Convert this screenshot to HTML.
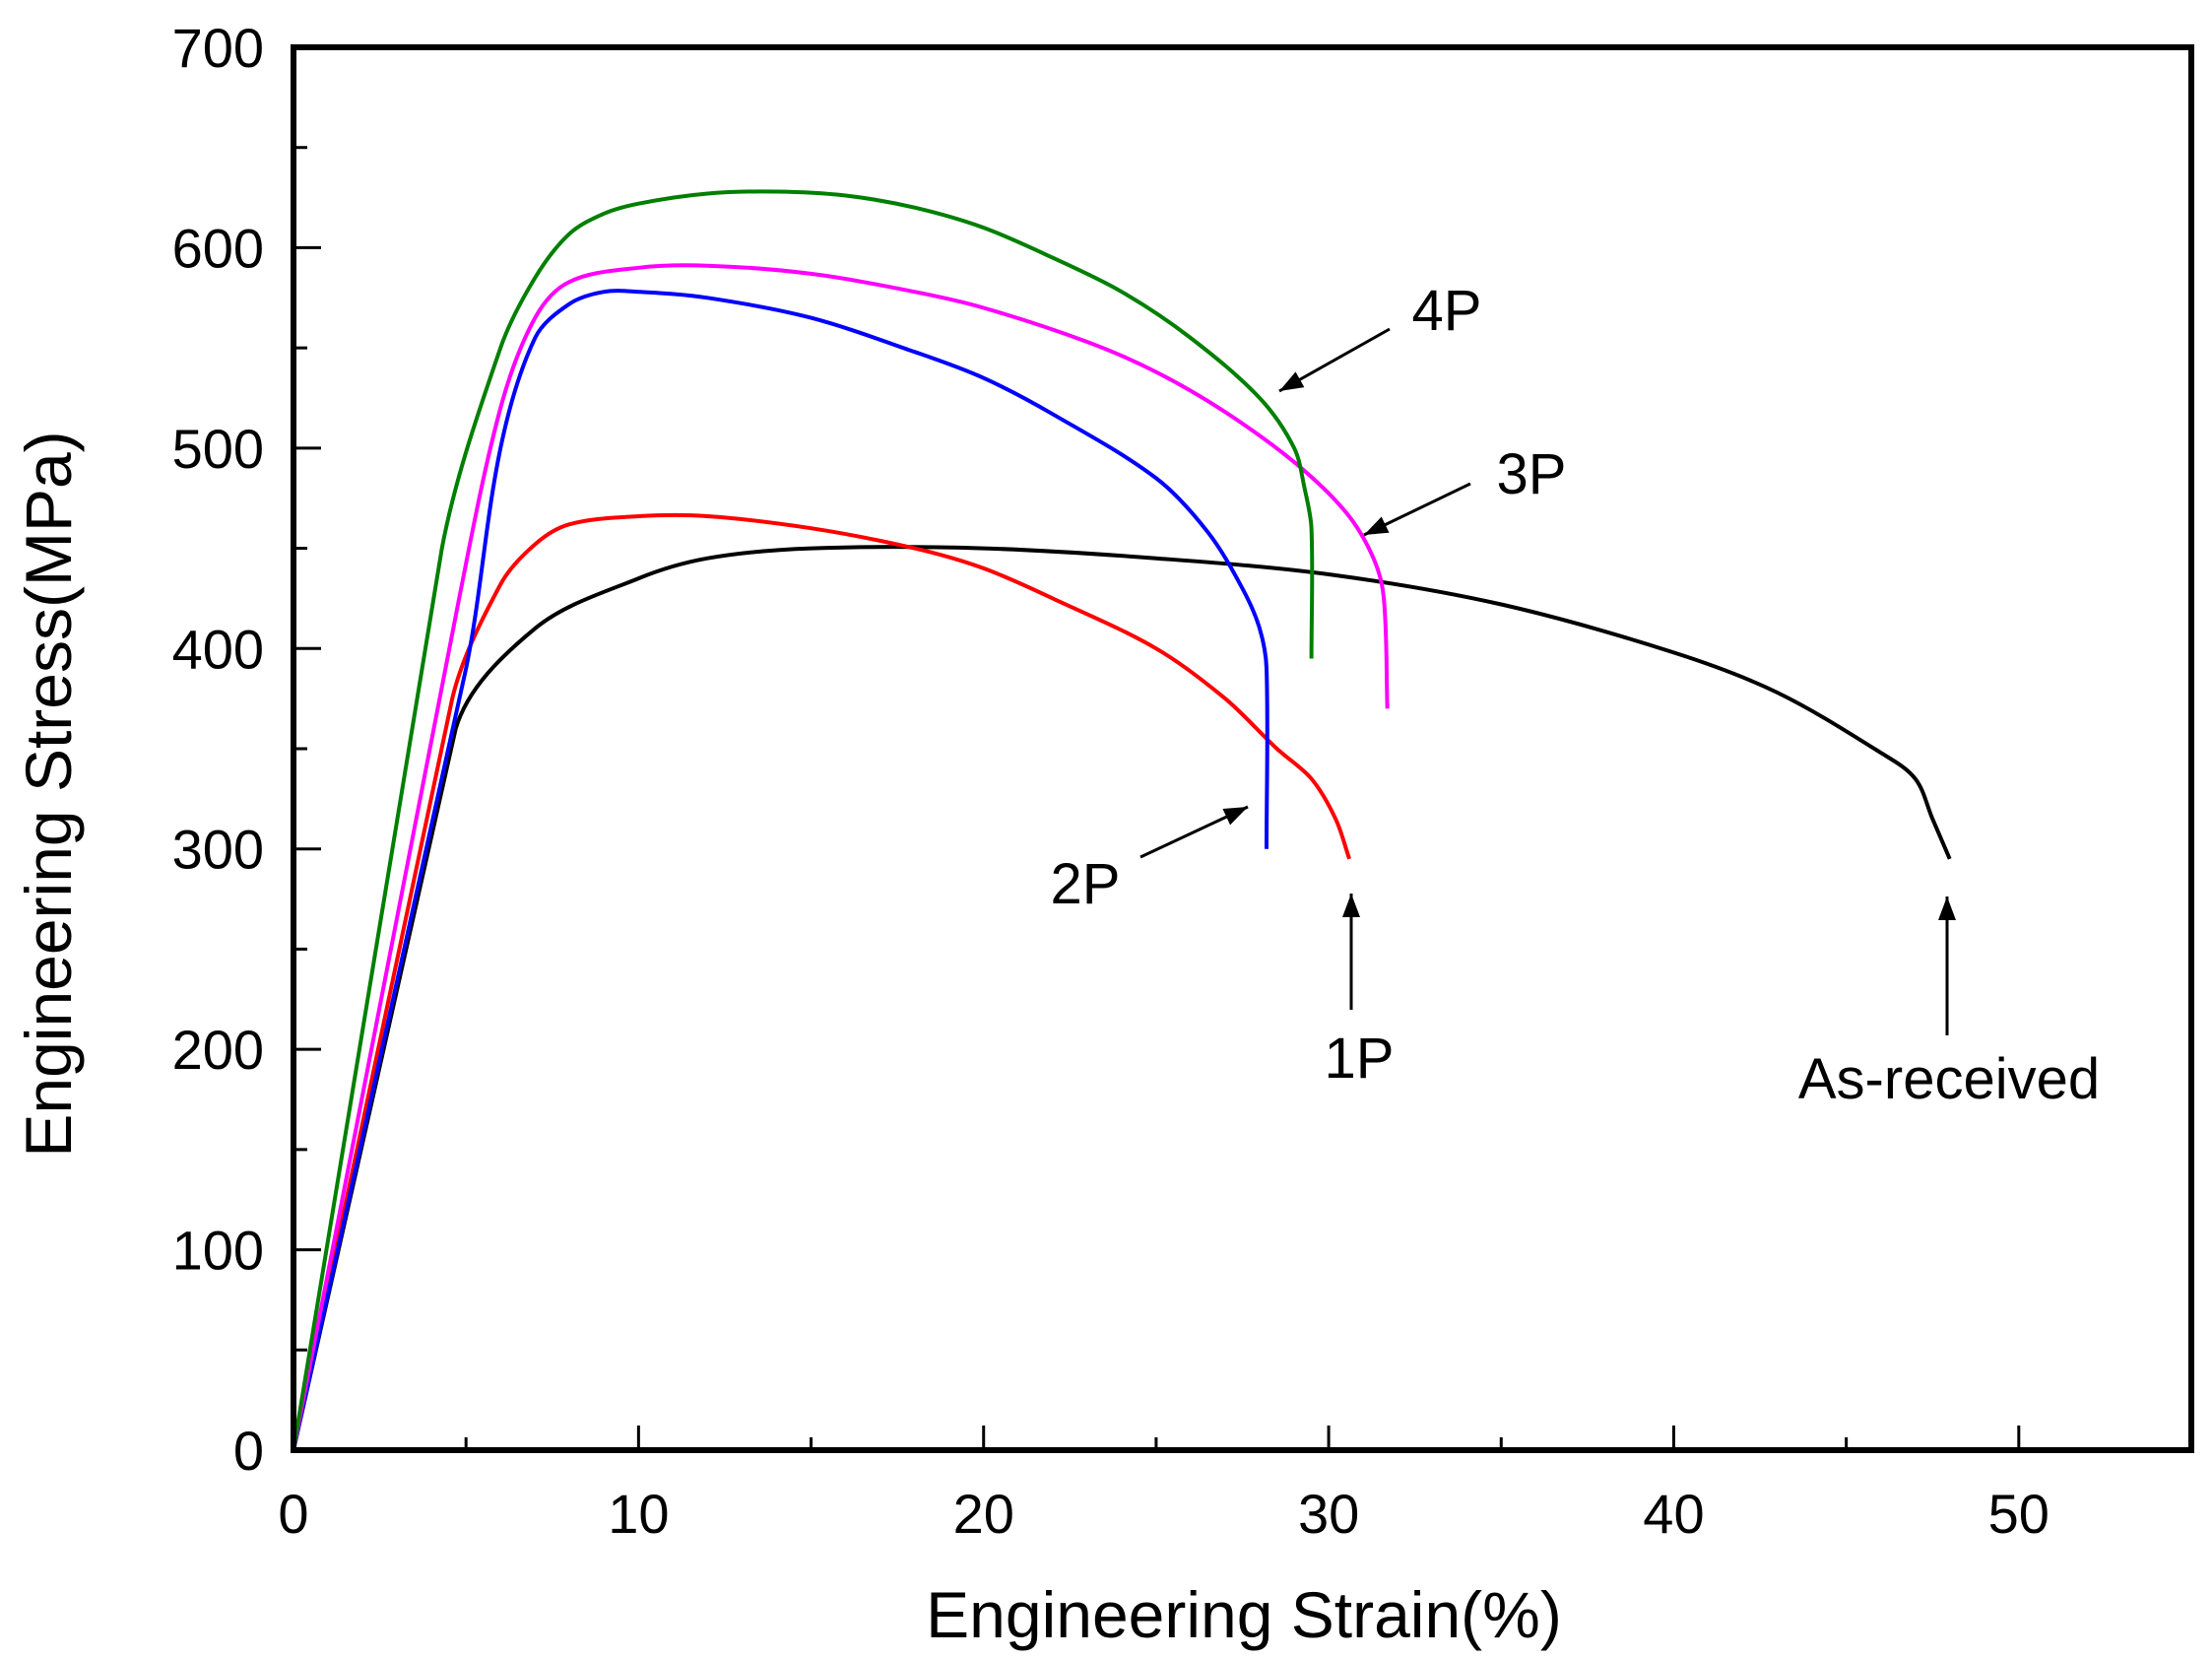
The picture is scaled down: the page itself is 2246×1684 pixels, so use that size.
<!DOCTYPE html>
<html><head><meta charset="utf-8">
<style>
html,body{margin:0;padding:0;background:#fff;}
svg{display:block;font-family:"Liberation Sans",sans-serif;}
</style></head>
<body>
<svg id="chart" width="2246" height="1684" viewBox="0 0 2246 1684" xmlns="http://www.w3.org/2000/svg">
<g id="plot"></g>
</svg>
<script>
const xTicks = [0,10,20,30,40,50];
const yTicks = [0,100,200,300,400,500,600,700];
const seriesNames = ["As-received","1P","2P","3P","4P"];
const seriesColors = ["#000000","#ff0000","#0000ff","#ff00ff","#007f00"];
const asReceivedX = [0,4.7,7,10,12,15,20,25,30,35,40,43,46,47,47.5,48];
const asReceivedY = [0,360,410,435,445,450,450,445,437,422,398,378,348,335,315,295];
const p1X = [0,4.6,6,7,8,10,12,15,18,20,22,25,27,28.5,29.5,30.2,30.6];
const p1Y = [0,375,432,452,462,466,466,460,450,440,425,400,375,350,335,315,295];
const p2X = [0,5,6,7,8,9,10,12,15,18,20,22,25,26.5,27.5,28,28.2,28.2];
const p2Y = [0,390,500,555,572,578,578,575,565,548,535,517,485,458,430,410,390,300];
const p3X = [0,4.8,6,7,8,10,12,15,18,20,23,25,27,29,30.5,31.3,31.6,31.7];
const p3Y = [0,425,520,565,583,590,591,587,578,570,553,538,518,493,468,445,425,370];
const p4X = [0,4.3,6,7,8,9,10,12,14,16,18,20,22,24,26,28,29,29.3,29.5,29.5];
const p4Y = [0,450,550,585,607,617,622,627,628,626,620,610,595,578,555,525,500,480,460,395];

const X0=298, X1=2225, Y0=1472, Y1=48;
const sx = v => X0 + (v/55)*(X1-X0);
const sy = v => Y0 - (v/700)*(Y0-Y1);
const NS="http://www.w3.org/2000/svg";
const g=document.getElementById('plot');
function mk(tag,attrs){const e=document.createElementNS(NS,tag);for(const k in attrs)e.setAttribute(k,attrs[k]);g.appendChild(e);return e;}

function smoothPath(P){
  const n=P.length;
  const dir=[];
  for(let i=0;i<n;i++){
    let a=P[Math.max(0,i-1)], b=P[Math.min(n-1,i+1)];
    if(i===0||i===n-1){dir.push(null);continue;}
    let dx=b[0]-a[0], dy=b[1]-a[1], l=Math.hypot(dx,dy)||1;
    dir.push([dx/l,dy/l]);
  }
  let d='M'+P[0][0].toFixed(1)+','+P[0][1].toFixed(1);
  for(let i=0;i<n-1;i++){
    const p1=P[i],p2=P[i+1];
    const L=Math.hypot(p2[0]-p1[0],p2[1]-p1[1]);
    const k=L*0.33;
    let c1,c2;
    if(i===0||!dir[i]) c1=[p1[0]+(p2[0]-p1[0])/3,p1[1]+(p2[1]-p1[1])/3];
    else c1=[p1[0]+dir[i][0]*k,p1[1]+dir[i][1]*k];
    if(i===0||!dir[i+1]) c2=[p2[0]-(p2[0]-p1[0])/3,p2[1]-(p2[1]-p1[1])/3];
    else c2=[p2[0]-dir[i+1][0]*k,p2[1]-dir[i+1][1]*k];
    d+=' C'+c1[0].toFixed(1)+','+c1[1].toFixed(1)+' '+c2[0].toFixed(1)+','+c2[1].toFixed(1)+' '+p2[0].toFixed(1)+','+p2[1].toFixed(1);
  }
  return d;
}

const xs=[asReceivedX,p1X,p2X,p3X,p4X], ys=[asReceivedY,p1Y,p2Y,p3Y,p4Y];
xs.forEach((xa,i)=>{
  const P=xa.map((x,j)=>[sx(x),sy(ys[i][j])]);
  const pl=mk('path',{d:smoothPath(P),fill:'none',stroke:seriesColors[i],'stroke-width':4,'stroke-linejoin':'round'});
  
  
});

const fr=mk('rect',{x:X0,y:Y1,width:X1-X0,height:Y0-Y1,fill:'none',stroke:'#000','stroke-width':6});



for(let v=0;v<=55;v+=5){
  const major=v%10===0;
  const t=mk('line',{x1:sx(v),x2:sx(v),y1:Y0,y2:Y0-(major?25:13),stroke:'#000','stroke-width':3});
  
  
}
xTicks.forEach(v=>{
  const t=mk('text',{x:sx(v),y:1556,'font-size':56,'text-anchor':'middle'});
  t.textContent=v;
  
  
});
for(let v=0;v<=700;v+=50){
  const major=v%100===0;
  const t=mk('line',{x1:X0,x2:X0+(major?28:14),y1:sy(v),y2:sy(v),stroke:'#000','stroke-width':3});
  
  
}
yTicks.forEach(v=>{
  const t=mk('text',{x:268,y:sy(v)+20,'font-size':56,'text-anchor':'end'});
  t.textContent=v;
  
  
});
const xt=mk('text',{x:1263,y:1662,'font-size':66,'text-anchor':'middle'});
xt.textContent='Engineering Strain(%)';


const yt=mk('text',{x:0,y:0,'font-size':66,'text-anchor':'middle',transform:'translate(72,806) rotate(-90)'});
yt.textContent='Engineering Stress(MPa)';



const ann=[
 ['4P',1469,335,1411,334,1299,397],
 ['3P',1555,501,1493,491,1385,543],
 ['2P',1102,917,1158,870,1267,819],
 ['1P',1380,1094,1372,1025,1372,907],
 ['As-received',1979,1115,1977,1051,1977,910]
];
ann.forEach(a=>{
  const t=mk('text',{x:a[1],y:a[2],'font-size':58,'text-anchor':'middle'});
  t.textContent=a[0];
  
  
  const l=mk('line',{x1:a[3],y1:a[4],x2:a[5],y2:a[6],stroke:'#000','stroke-width':3});
  
  
  const ang=Math.atan2(a[6]-a[4],a[5]-a[3]);
  const L=24,W=9;
  const bx=a[5]-L*Math.cos(ang), by=a[6]-L*Math.sin(ang);
  const p=`${a[5]},${a[6]} ${bx+W*Math.sin(ang)},${by-W*Math.cos(ang)} ${bx-W*Math.sin(ang)},${by+W*Math.cos(ang)}`;
  const h=mk('polygon',{points:p,fill:'#000'});
  
  
});
</script>
</body></html>
